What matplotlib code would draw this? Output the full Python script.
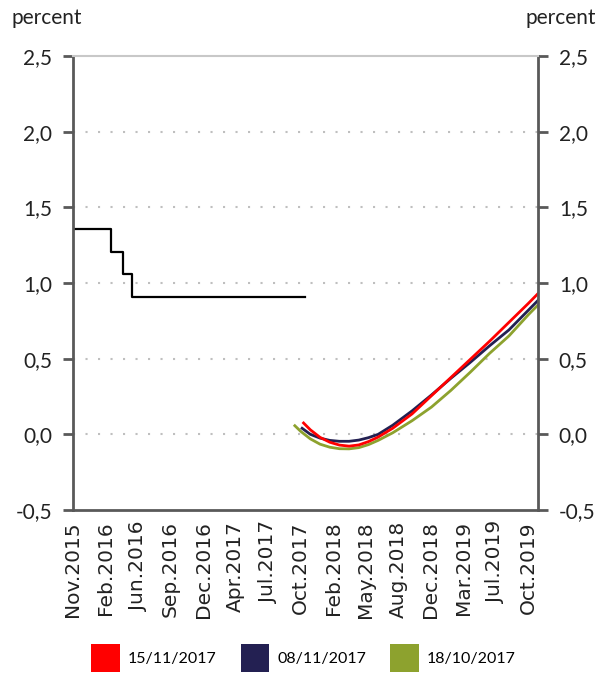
import numpy as np
import matplotlib
matplotlib.use("Agg")
import matplotlib.pyplot as plt
from matplotlib.patches import Patch

# months counted from Nov.2015 (= 0)
step_x = [0.0, 3.96, 3.96, 5.17, 5.17, 6.07, 6.07, 23.97]
step_y = [1.355, 1.355, 1.205, 1.205, 1.062, 1.062, 0.907, 0.907]

red_x = [23.8, 24.5, 25.5, 26.5, 27.5, 28.5, 29.5, 30.5, 31.5, 33, 35, 37, 39, 41, 43, 45, 47, 48]
red_y = [0.075, 0.03, -0.02, -0.052, -0.071, -0.078, -0.07, -0.048, -0.018, 0.04, 0.135,
         0.255, 0.375, 0.495, 0.615, 0.74, 0.865, 0.93]

navy_x = [23.65, 24.5, 25.5, 26.5, 27.5, 28.5, 29.5, 30.5, 31.5, 33, 35, 37, 39, 41, 43, 45, 47, 48]
navy_y = [0.04, 0.0, -0.025, -0.04, -0.046, -0.046, -0.038, -0.022, 0.0, 0.06, 0.155,
          0.26, 0.37, 0.475, 0.585, 0.69, 0.82, 0.885]

green_x = [22.9, 23.5, 24.5, 25.5, 26.5, 27.5, 28.5, 29.5, 30.5, 31.5, 33, 35, 37, 39, 41, 43, 45, 47, 48]
green_y = [0.057, 0.02, -0.03, -0.065, -0.085, -0.095, -0.096, -0.088, -0.068, -0.04, 0.01, 0.09,
           0.18, 0.29, 0.41, 0.535, 0.65, 0.79, 0.855]

x_labels = ["Nov.2015", "Feb.2016", "Jun.2016", "Sep.2016", "Dec.2016", "Apr.2017", "Jul.2017",
            "Oct.2017", "Feb.2018", "May.2018", "Aug.2018", "Dec.2018", "Mar.2019", "Jul.2019", "Oct.2019"]
y_ticks = [-0.5, 0.0, 0.5, 1.0, 1.5, 2.0, 2.5]
y_labels = ["-0,5", "0,0", "0,5", "1,0", "1,5", "2,0", "2,5"]
legend_labels = ["15/11/2017", "08/11/2017", "18/10/2017"]

RED = "#FF0000"
NAVY = "#232052"
GREEN = "#8DA22E"
SPINE = "#595959"

plt.rcParams['font.family'] = ['Lato', 'DejaVu Sans']

fig = plt.figure(figsize=(6.07, 6.73), dpi=100)
ax = fig.add_axes([73/607, 1 - 510/673, (538-73)/607, (510-56)/673])

ax.plot(step_x, step_y, color='black', lw=1.6)
ax.plot(green_x, green_y, color=GREEN, lw=2)
ax.plot(navy_x, navy_y, color=NAVY, lw=2)
ax.plot(red_x, red_y, color=RED, lw=2)

ax.set_xlim(0, 48)
ax.set_ylim(-0.5, 2.5)

ax.set_yticks(y_ticks)
ax.set_yticklabels(y_labels, fontsize=15, color='#222222')
ax.tick_params(axis='y', left=True, right=True, labelleft=True, labelright=True,
               direction='out', length=7, width=2, color=SPINE, pad=8)

ax.set_xticks(np.linspace(0, 47, len(x_labels)))
ax.set_xticklabels(x_labels, rotation=90, fontsize=14.5, family='DejaVu Sans', color='#222222')
ax.tick_params(axis='x', length=0, pad=8)

for y in [0.0, 0.5, 1.0, 1.5, 2.0]:
    ax.axhline(y, color='#BFBFBF', lw=1.5, ls=(0, (1, 5)), zorder=0)

for s in ['left', 'right', 'bottom']:
    ax.spines[s].set_color(SPINE)
    ax.spines[s].set_linewidth(2)
ax.spines['top'].set_color('#C8C8C8')
ax.spines['top'].set_linewidth(1.5)

fig.text(12/607, 1 - 18/673, "percent", fontsize=15, ha='left', va='center', color='#222222')
fig.text(596/607, 1 - 18/673, "percent", fontsize=15, ha='right', va='center', color='#222222')

handles = [Patch(facecolor=c, edgecolor='none') for c in [RED, NAVY, GREEN]]
fig.legend(handles, legend_labels, loc='center', bbox_to_anchor=(0.5, 1 - 658/673), ncol=3,
           frameon=False, fontsize=11.5, handlelength=1.8, handleheight=2.3,
           handletextpad=0.5, columnspacing=1.5)

fig.savefig("out.png", dpi=100)
